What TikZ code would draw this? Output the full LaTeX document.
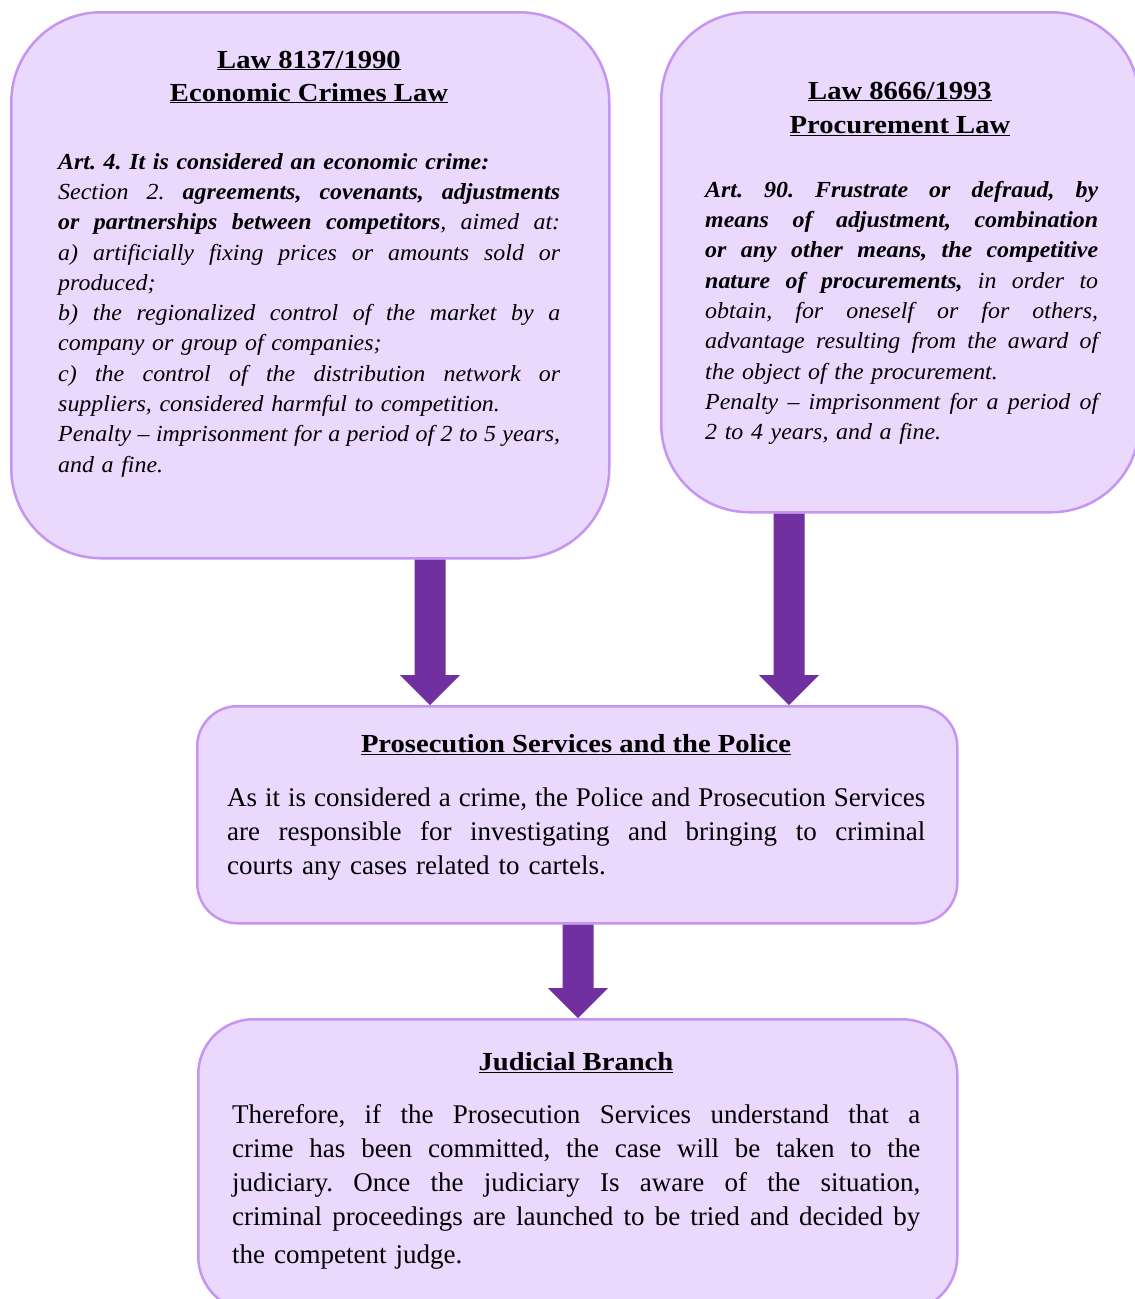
\documentclass[tikz,border=0pt]{standalone}
\usepackage{fontspec}
\setmainfont{Liberation Serif}
\newfontfamily\bodyfont[FakeStretch=1.04]{Liberation Serif}
\newfontfamily\titlefont[FakeStretch=1.1]{Liberation Serif}
\usetikzlibrary{calc}
\definecolor{boxfill}{RGB}{234,216,253}
\definecolor{boxline}{RGB}{198,148,242}
\definecolor{arrowc}{RGB}{112,48,160}
\newlength\bw
\newcommand\jl[1]{\leavevmode\hbox to\bw{\spaceskip=\fontdimen2\font plus 1fil minus 0.3\fontdimen2\font\relax #1}}
\newcommand\bi[1]{\textbf{\textit{#1}}}
\newcommand\bigarrow[2]{%
  \fill[arrowc] ($(#1)+(-15.5,0)$) -- ($(#2)+(-15.5,-30)$) -- ($(#2)+(-30,-30)$) -- (#2)
    -- ($(#2)+(30,-30)$) -- ($(#2)+(15.5,-30)$) -- ($(#1)+(15.5,0)$) -- cycle;}
\frenchspacing
\begin{document}
\begin{tikzpicture}[x=1pt,y=-1pt,
  box/.style={draw=boxline,fill=boxfill,line width=2.5pt,inner sep=0pt,anchor=north west},
  ttl/.style={anchor=base,inner sep=0pt,font=\titlefont\fontsize{26}{30}\selectfont\bfseries},
  body/.style={anchor=north west,inner sep=0pt,align=left,font=\bodyfont\fontsize{23}{30.3}\selectfont\itshape\frenchspacing},
  cbody/.style={anchor=north west,inner sep=0pt,align=left,font=\fontsize{27}{34}\selectfont\frenchspacing}]
\useasboundingbox (0,0) rectangle (1135,1299);
\node[box,rounded corners=90pt,minimum width=598pt,minimum height=546pt] (b1) at (10,11) {};
\node[box,rounded corners=88pt,minimum width=478pt,minimum height=500pt] (b2) at (660,11) {};
\node[box,rounded corners=40pt,minimum width=760pt,minimum height=217pt] (b3) at (196,705) {};
\node[box,rounded corners=55pt,minimum width=759pt,minimum height=292pt] (b4) at (197,1018) {};
\coordinate (a1) at (430,0);
\coordinate (a2) at (789,0);
\coordinate (a3) at (578,0);
\coordinate (s1) at (b1.south -| a1);
\coordinate (e1) at (b3.north -| a1);
\coordinate (s2) at (b2.south -| a2);
\coordinate (e2) at (b3.north -| a2);
\coordinate (s3) at (b3.south -| a3);
\coordinate (e3) at (b4.north -| a3);
\bigarrow{s1}{e1}
\bigarrow{s2}{e2}
\bigarrow{s3}{e3}
% box 1
\node[ttl] (t1a) at (309,68) {\underline{Law 8137/1990}};
\node[ttl] (t1b) at (309,101) {\underline{Economic Crimes Law}};
\node[body,text width=502pt] (p1) at (58,153) {\setlength\bw{502pt}%
\bi{Art. 4. It is considered an economic crime:}\\
\jl{Section 2. \bi{agreements, covenants, adjustments}}\\
\jl{\bi{or partnerships between competitors}, aimed at:}\\
\jl{a) artificially fixing prices or amounts sold or}\\
produced;\\
\jl{b) the regionalized control of the market by a}\\
company or group of companies;\\
\jl{c) the control of the distribution network or}\\
suppliers, considered harmful to competition.\\
\jl{Penalty – imprisonment for a period of 2 to 5 years,}\\
and a fine.};
% box 2
\node[ttl] (t2a) at (900,99) {\underline{Law 8666/1993}};
\node[ttl] (t2b) at (900,133) {\underline{Procurement Law}};
\node[body,text width=393pt] (p2) at (705,181) {\setlength\bw{393pt}%
\jl{\bi{Art. 90. Frustrate or defraud, by}}\\
\jl{\bi{means of adjustment, combination}}\\
\jl{\bi{or any other means, the competitive}}\\
\jl{\bi{nature of procurements,} in order to}\\
\jl{obtain, for oneself or for others,}\\
\jl{advantage resulting from the award of}\\
the object of the procurement.\\
\jl{Penalty – imprisonment for a period of}\\
2 to 4 years, and a fine.};
% box 3
\node[ttl] (t3) at (576,752) {\underline{Prosecution Services and the Police}};
\node[cbody,text width=698pt] (p3) at (227,788) {\setlength\bw{698pt}%
\jl{As it is considered a crime, the Police and Prosecution Services}\\
\jl{are responsible for investigating and bringing to criminal}\\
courts any cases related to cartels.};
% box 4
\node[ttl] (t4) at (576,1070) {\underline{Judicial Branch}};
\node[cbody,text width=688pt] (p4) at (232,1104) {\setlength\bw{688pt}%
\jl{Therefore, if the Prosecution Services understand that a}\\
\jl{crime has been committed, the case will be taken to the}\\
\jl{judiciary. Once the judiciary Is aware of the situation,}\\
\jl{criminal proceedings are launched to be tried and decided by}\\[4pt]
the competent judge.};
\end{tikzpicture}
\end{document}
